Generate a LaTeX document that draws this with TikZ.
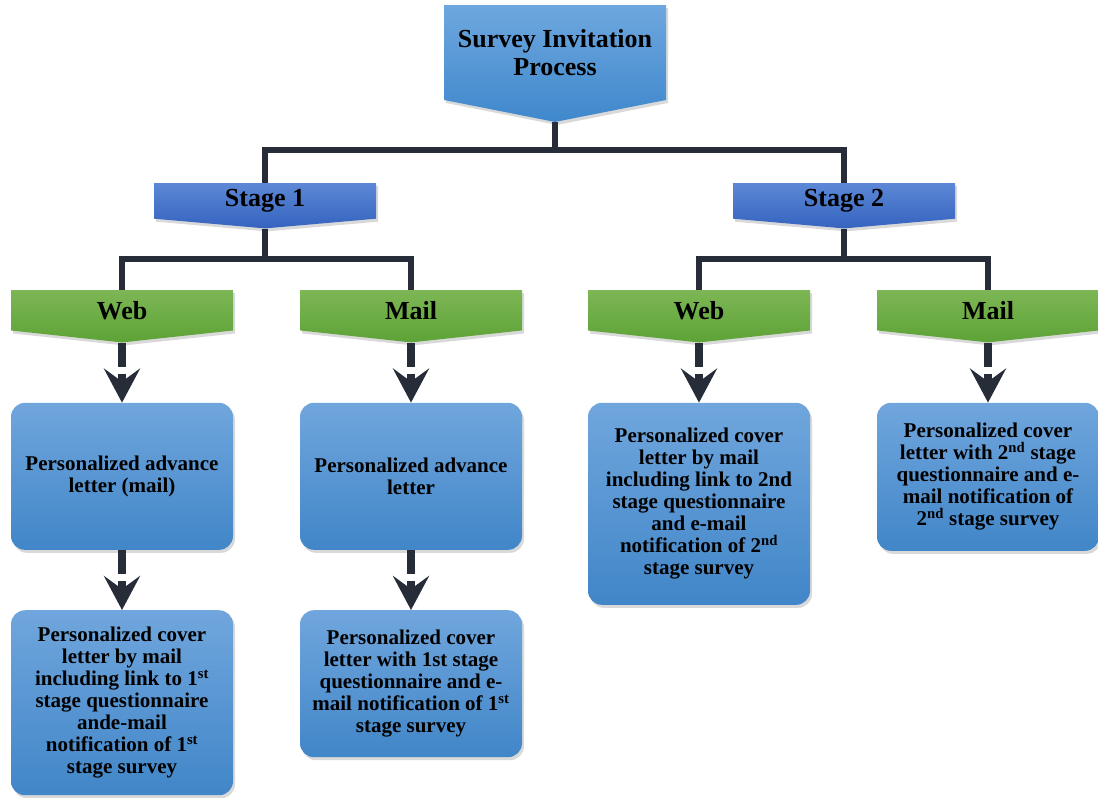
\documentclass[tikz,border=0pt]{standalone}
\usepackage{fontspec}
\setmainfont{Liberation Serif}
\usetikzlibrary{shapes,arrows.meta,positioning,shadows}

\definecolor{titletop}{HTML}{6EA7DF}
\definecolor{titlebot}{HTML}{3F88CC}
\definecolor{stagetop}{HTML}{5C88D6}
\definecolor{stagebot}{HTML}{3563BF}
\definecolor{greentop}{HTML}{7DB655}
\definecolor{greenbot}{HTML}{5DA336}
\definecolor{boxtop}{HTML}{70A6DD}
\definecolor{boxbot}{HTML}{4186C8}
\definecolor{darkline}{HTML}{262D39}

\begin{document}
\begin{tikzpicture}[x=1pt,y=-1pt]

 \tikzstyle{banner}=[signal,signal to=south,signal from=nowhere,minimum width=222pt,
inner sep=0pt,align=center,font=\bfseries\fontsize{26}{28}\selectfont,
drop shadow={shadow xshift=2pt,shadow yshift=-3pt,opacity=.3}]
 \tikzstyle{titlebox}=[banner,minimum height=114pt,signal pointer angle=157.6,
top color=titletop,bottom color=titlebot]
 \tikzstyle{stagebox}=[banner,minimum height=39pt,signal pointer angle=170,
top color=stagetop,bottom color=stagebot]
 \tikzstyle{modebox}=[banner,minimum height=43pt,signal pointer angle=167.7,
top color=greentop,bottom color=greenbot]
 \tikzstyle{letterbox}=[rectangle,rounded corners=14pt,minimum width=222pt,
align=center,font=\bfseries\fontsize{21}{22}\selectfont,top color=boxtop,bottom color=boxbot,
drop shadow={shadow xshift=2pt,shadow yshift=-3pt,opacity=.3}]
 \tikzstyle{conn}=[draw=darkline,line width=6pt]
 \tikzstyle{arr}=[draw=darkline,line width=7.5pt,dash pattern=on 24pt off 7pt on 100pt,
-{Stealth[length=34pt,width=36pt,inset=13pt]}]

\useasboundingbox (0,0) rectangle (1098,798);

\node[titlebox,anchor=north] (title) at (555,5) {Survey Invitation\\Process};

\node[stagebox,anchor=north] (s1) at (265,183) {Stage 1};
\node[stagebox,anchor=north] (s2) at (844,183) {Stage 2};

% Web / Mail
\node[modebox,anchor=north] (w1) at (122,290) {Web};
\node[modebox] (m1) [node distance=289pt,right of=w1] {Mail};
\node[modebox] (w2) [node distance=288pt,right of=m1] {Web};
\node[modebox] (m2) [node distance=289pt,right of=w2] {Mail};

% Letters
\node[letterbox,minimum height=147pt] (w1a) [below=60pt of w1]
 {Personalized advance\\letter (mail)};
\node[letterbox,minimum height=185pt] (w1b) [below=60pt of w1a]
 {Personalized cover\\letter by mail\\including link to 1\textsuperscript{st}\\stage questionnaire\\ande-mail\\notification of 1\textsuperscript{st}\\stage survey};
\node[letterbox,minimum height=147pt] (m1a) [below=60pt of m1]
 {Personalized advance\\letter};
\node[letterbox,minimum height=147pt] (m1b) [below=60pt of m1a]
 {Personalized cover\\letter with 1st stage\\questionnaire and e-\\mail notification of 1\textsuperscript{st}\\stage survey};
\node[letterbox,minimum height=202pt] (w2a) [below=60pt of w2]
 {Personalized cover\\letter by mail\\including link to 2nd\\stage questionnaire\\and e-mail\\notification of 2\textsuperscript{nd}\\stage survey};
\node[letterbox,minimum height=148pt] (m2a) [below=60pt of m2]
 {Personalized cover\\letter with 2\textsuperscript{nd} stage\\questionnaire and e-\\mail notification of\\2\textsuperscript{nd} stage survey};

% Tree lines
\draw[conn] (title.south) -- ++(0,28) -| (s1.north);
\draw[conn] (title.south) -- ++(0,28) -| (s2.north);
\draw[conn] (s1.south) -- ++(0,30) -| (w1.north);
\draw[conn] (s1.south) -- ++(0,30) -| (m1.north);
\draw[conn] (s2.south) -- ++(0,30) -| (w2.north);
\draw[conn] (s2.south) -- ++(0,30) -| (m2.north);

% Arrows
\draw[arr] (w1.south) -- (w1a.north);
\draw[arr] (w1a.south) -- (w1b.north);
\draw[arr] (m1.south) -- (m1a.north);
\draw[arr] (m1a.south) -- (m1b.north);
\draw[arr] (w2.south) -- (w2a.north);
\draw[arr] (m2.south) -- (m2a.north);

\end{tikzpicture}
\end{document}
